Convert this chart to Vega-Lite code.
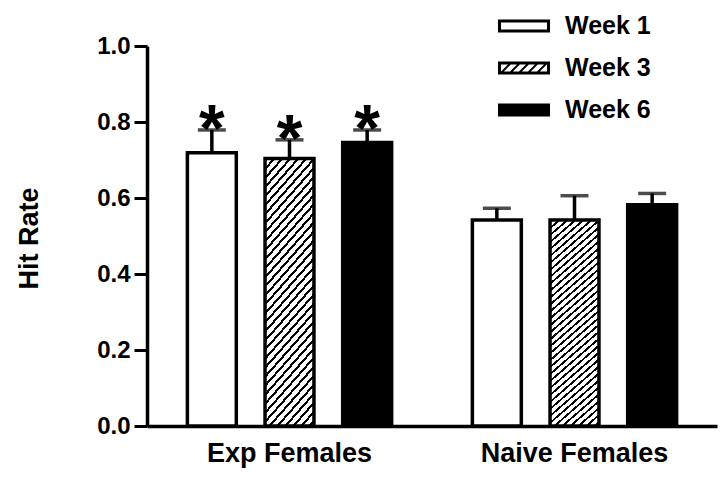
{
  "$schema": "https://vega.github.io/schema/vega-lite/v6.json",
  "width": 570,
  "height": 380,
  "autosize": {"type": "none"},
  "padding": {"left": 147, "top": 46, "right": 8, "bottom": 55},
  "background": "#ffffff",
  "config": {"view": {"stroke": null}, "font": "Liberation Sans"},
  "data": {
    "values": [
      {"group": "Exp Females", "week": "Week 1", "mean": 0.719, "hi": 0.779, "sig": "*"},
      {"group": "Exp Females", "week": "Week 3", "mean": 0.704, "hi": 0.753, "sig": "*"},
      {"group": "Exp Females", "week": "Week 6", "mean": 0.746, "hi": 0.779, "sig": "*"},
      {"group": "Naive Females", "week": "Week 1", "mean": 0.542, "hi": 0.573, "sig": ""},
      {"group": "Naive Females", "week": "Week 3", "mean": 0.542, "hi": 0.606, "sig": ""},
      {"group": "Naive Females", "week": "Week 6", "mean": 0.582, "hi": 0.612, "sig": ""}
    ]
  },
  "encoding": {
    "x": {
      "field": "group",
      "type": "nominal",
      "scale": {"paddingInner": 0, "paddingOuter": 0},
      "axis": {
        "title": null,
        "labelAngle": 0,
        "labelFont": "Liberation Sans",
        "labelFontSize": 27,
        "labelFontWeight": "bold",
        "labelColor": "#000",
        "labelLimit": 400,
        "ticks": false,
        "tickSize": 0,
        "labelPadding": 35,
        "labelBaseline": "alphabetic",
        "domainColor": "#000",
        "domainWidth": 3.5,
        "grid": false
      }
    },
    "xOffset": {
      "field": "week",
      "type": "nominal",
      "scale": {"paddingInner": 0.37, "paddingOuter": 0.52}
    }
  },
  "layer": [
    {
      "mark": {"type": "bar", "stroke": "#000", "strokeWidth": 3.5},
      "encoding": {
        "y": {
          "field": "mean",
          "type": "quantitative",
          "title": "Hit Rate",
          "scale": {"domain": [0, 1]},
          "axis": {
            "title": "Hit Rate",
            "values": [0, 0.1, 0.2, 0.3, 0.4, 0.5, 0.6, 0.7, 0.8, 0.9, 1],
            "format": ".1f",
            "labelExpr": "round(datum.value*10) % 2 == 0 ? datum.label : ''",
            "labelFont": "Liberation Sans",
            "labelFontSize": 24,
            "labelFontWeight": "bold",
            "labelColor": "#000",
            "labelPadding": 4,
            "labelFlush": false,
            "labelOverlap": false,
            "tickColor": "#000",
            "tickWidth": 3,
            "tickSize": 13,
            "domainColor": "#000",
            "domainWidth": 3.5,
            "grid": false,
            "titleFont": "Liberation Sans",
            "titleFontSize": 27,
            "titleFontWeight": "bold",
            "titleColor": "#000",
            "titleAngle": -90,
            "titleAlign": "center",
            "titleBaseline": "alphabetic",
            "titleX": -110,
            "titleY": 192,
            "encode": {"ticks": {"update": {"x2": {"signal": "round(datum.value*10) % 2 == 0 ? -13 : -7"}}}}
          }
        },
        "fill": {
          "field": "week",
          "type": "nominal",
          "scale": {"domain": ["Week 1", "Week 3", "Week 6"], "range": ["#000000", "#000000", "#000000"]},
          "condition": [
            {
              "test": "datum.week === 'Week 3'",
              "value": {
                "gradient": "linear", "x1": 0, "y1": 0, "x2": 0.2677, "y2": 1.2949,
                "stops": [
                  {"offset":0,"color":"#000"},{"offset":0.00875,"color":"#000"},{"offset":0.00875,"color":"#fff"},{"offset":0.025,"color":"#fff"},
                  {"offset":0.025,"color":"#000"},{"offset":0.03375,"color":"#000"},{"offset":0.03375,"color":"#fff"},{"offset":0.05,"color":"#fff"},
                  {"offset":0.05,"color":"#000"},{"offset":0.05875,"color":"#000"},{"offset":0.05875,"color":"#fff"},{"offset":0.075,"color":"#fff"},
                  {"offset":0.075,"color":"#000"},{"offset":0.08375,"color":"#000"},{"offset":0.08375,"color":"#fff"},{"offset":0.1,"color":"#fff"},
                  {"offset":0.1,"color":"#000"},{"offset":0.10875,"color":"#000"},{"offset":0.10875,"color":"#fff"},{"offset":0.125,"color":"#fff"},
                  {"offset":0.125,"color":"#000"},{"offset":0.13375,"color":"#000"},{"offset":0.13375,"color":"#fff"},{"offset":0.15,"color":"#fff"},
                  {"offset":0.15,"color":"#000"},{"offset":0.15875,"color":"#000"},{"offset":0.15875,"color":"#fff"},{"offset":0.175,"color":"#fff"},
                  {"offset":0.175,"color":"#000"},{"offset":0.18375,"color":"#000"},{"offset":0.18375,"color":"#fff"},{"offset":0.2,"color":"#fff"},
                  {"offset":0.2,"color":"#000"},{"offset":0.20875,"color":"#000"},{"offset":0.20875,"color":"#fff"},{"offset":0.225,"color":"#fff"},
                  {"offset":0.225,"color":"#000"},{"offset":0.23375,"color":"#000"},{"offset":0.23375,"color":"#fff"},{"offset":0.25,"color":"#fff"},
                  {"offset":0.25,"color":"#000"},{"offset":0.25875,"color":"#000"},{"offset":0.25875,"color":"#fff"},{"offset":0.275,"color":"#fff"},
                  {"offset":0.275,"color":"#000"},{"offset":0.28375,"color":"#000"},{"offset":0.28375,"color":"#fff"},{"offset":0.3,"color":"#fff"},
                  {"offset":0.3,"color":"#000"},{"offset":0.30875,"color":"#000"},{"offset":0.30875,"color":"#fff"},{"offset":0.325,"color":"#fff"},
                  {"offset":0.325,"color":"#000"},{"offset":0.33375,"color":"#000"},{"offset":0.33375,"color":"#fff"},{"offset":0.35,"color":"#fff"},
                  {"offset":0.35,"color":"#000"},{"offset":0.35875,"color":"#000"},{"offset":0.35875,"color":"#fff"},{"offset":0.375,"color":"#fff"},
                  {"offset":0.375,"color":"#000"},{"offset":0.38375,"color":"#000"},{"offset":0.38375,"color":"#fff"},{"offset":0.4,"color":"#fff"},
                  {"offset":0.4,"color":"#000"},{"offset":0.40875,"color":"#000"},{"offset":0.40875,"color":"#fff"},{"offset":0.425,"color":"#fff"},
                  {"offset":0.425,"color":"#000"},{"offset":0.43375,"color":"#000"},{"offset":0.43375,"color":"#fff"},{"offset":0.45,"color":"#fff"},
                  {"offset":0.45,"color":"#000"},{"offset":0.45875,"color":"#000"},{"offset":0.45875,"color":"#fff"},{"offset":0.475,"color":"#fff"},
                  {"offset":0.475,"color":"#000"},{"offset":0.48375,"color":"#000"},{"offset":0.48375,"color":"#fff"},{"offset":0.5,"color":"#fff"},
                  {"offset":0.5,"color":"#000"},{"offset":0.50875,"color":"#000"},{"offset":0.50875,"color":"#fff"},{"offset":0.525,"color":"#fff"},
                  {"offset":0.525,"color":"#000"},{"offset":0.53375,"color":"#000"},{"offset":0.53375,"color":"#fff"},{"offset":0.55,"color":"#fff"},
                  {"offset":0.55,"color":"#000"},{"offset":0.55875,"color":"#000"},{"offset":0.55875,"color":"#fff"},{"offset":0.575,"color":"#fff"},
                  {"offset":0.575,"color":"#000"},{"offset":0.58375,"color":"#000"},{"offset":0.58375,"color":"#fff"},{"offset":0.6,"color":"#fff"},
                  {"offset":0.6,"color":"#000"},{"offset":0.60875,"color":"#000"},{"offset":0.60875,"color":"#fff"},{"offset":0.625,"color":"#fff"},
                  {"offset":0.625,"color":"#000"},{"offset":0.63375,"color":"#000"},{"offset":0.63375,"color":"#fff"},{"offset":0.65,"color":"#fff"},
                  {"offset":0.65,"color":"#000"},{"offset":0.65875,"color":"#000"},{"offset":0.65875,"color":"#fff"},{"offset":0.675,"color":"#fff"},
                  {"offset":0.675,"color":"#000"},{"offset":0.68375,"color":"#000"},{"offset":0.68375,"color":"#fff"},{"offset":0.7,"color":"#fff"},
                  {"offset":0.7,"color":"#000"},{"offset":0.70875,"color":"#000"},{"offset":0.70875,"color":"#fff"},{"offset":0.725,"color":"#fff"},
                  {"offset":0.725,"color":"#000"},{"offset":0.73375,"color":"#000"},{"offset":0.73375,"color":"#fff"},{"offset":0.75,"color":"#fff"},
                  {"offset":0.75,"color":"#000"},{"offset":0.75875,"color":"#000"},{"offset":0.75875,"color":"#fff"},{"offset":0.775,"color":"#fff"},
                  {"offset":0.775,"color":"#000"},{"offset":0.78375,"color":"#000"},{"offset":0.78375,"color":"#fff"},{"offset":0.8,"color":"#fff"},
                  {"offset":0.8,"color":"#000"},{"offset":0.80875,"color":"#000"},{"offset":0.80875,"color":"#fff"},{"offset":0.825,"color":"#fff"},
                  {"offset":0.825,"color":"#000"},{"offset":0.83375,"color":"#000"},{"offset":0.83375,"color":"#fff"},{"offset":0.85,"color":"#fff"},
                  {"offset":0.85,"color":"#000"},{"offset":0.85875,"color":"#000"},{"offset":0.85875,"color":"#fff"},{"offset":0.875,"color":"#fff"},
                  {"offset":0.875,"color":"#000"},{"offset":0.88375,"color":"#000"},{"offset":0.88375,"color":"#fff"},{"offset":0.9,"color":"#fff"},
                  {"offset":0.9,"color":"#000"},{"offset":0.90875,"color":"#000"},{"offset":0.90875,"color":"#fff"},{"offset":0.925,"color":"#fff"},
                  {"offset":0.925,"color":"#000"},{"offset":0.93375,"color":"#000"},{"offset":0.93375,"color":"#fff"},{"offset":0.95,"color":"#fff"},
                  {"offset":0.95,"color":"#000"},{"offset":0.95875,"color":"#000"},{"offset":0.95875,"color":"#fff"},{"offset":0.975,"color":"#fff"},
                  {"offset":0.975,"color":"#000"},{"offset":0.98375,"color":"#000"},{"offset":0.98375,"color":"#fff"},{"offset":1,"color":"#fff"}
                ]
              }
            },
            {"test": "datum.week === 'Week 1'", "value": "#ffffff"}
          ],
          "legend": {
            "title": null,
            "orient": "none",
            "legendX": 364,
            "legendY": -33,
            "padding": 0,
            "symbolSize": 676,
            "symbolStrokeWidth": 0,
            "symbolOpacity": 1,
            "labelFont": "Liberation Sans",
            "labelFontSize": 25,
            "labelFontWeight": "bold",
            "labelColor": "#000",
            "labelOffset": 28,
            "rowPadding": 16
          }
        }
      }
    },
    {
      "mark": {"type": "point", "filled": true, "color": "#000", "opacity": 0},
      "encoding": {
        "y": {"field": "mean", "type": "quantitative", "title": "Hit Rate"},
        "shape": {
          "field": "week",
          "type": "nominal",
          "scale": {
            "domain": ["Week 1", "Week 3", "Week 6"],
            "range": [
              "M-2,-0.5H2V0.5H-2ZM-1.769,-0.269V0.269H1.769V-0.269Z",
              "M-2,-0.5H2V0.5H-2ZM-1.769,-0.269V0.269H1.769V-0.269ZM-1.769,0.269L-1.231,-0.269L-1.015,-0.269L-1.554,0.269ZM-1.077,0.269L-0.538,-0.269L-0.323,-0.269L-0.862,0.269ZM-0.385,0.269L0.154,-0.269L0.369,-0.269L-0.169,0.269ZM0.308,0.269L0.846,-0.269L1.062,-0.269L0.523,0.269ZM1,0.269L1.538,-0.269L1.754,-0.269L1.215,0.269Z",
              "M-2,-0.5H2V0.5H-2Z"
            ]
          },
          "legend": {
            "title": null,
            "orient": "none",
            "legendX": 364,
            "legendY": -33,
            "padding": 0,
            "symbolSize": 676,
            "symbolStrokeWidth": 0,
            "symbolOpacity": 1,
            "labelFont": "Liberation Sans",
            "labelFontSize": 25,
            "labelFontWeight": "bold",
            "labelColor": "#000",
            "labelOffset": 28,
            "rowPadding": 16
          }
        }
      }
    },
    {
      "mark": {"type": "rule", "color": "#000", "strokeWidth": 3.5},
      "encoding": {
        "y": {"field": "mean", "type": "quantitative", "title": "Hit Rate"},
        "y2": {"field": "hi"}
      }
    },
    {
      "mark": {"type": "tick", "color": "#000", "size": 28, "thickness": 3.5},
      "encoding": {
        "y": {"field": "hi", "type": "quantitative", "title": "Hit Rate"}
      }
    },
    {
      "mark": {"type": "text", "font": "Liberation Sans", "fontWeight": "bold", "fontSize": 66, "baseline": "alphabetic", "dy": 21, "color": "#000"},
      "encoding": {
        "y": {"field": "hi", "type": "quantitative", "title": "Hit Rate"},
        "text": {"field": "sig"}
      }
    }
  ]
}
